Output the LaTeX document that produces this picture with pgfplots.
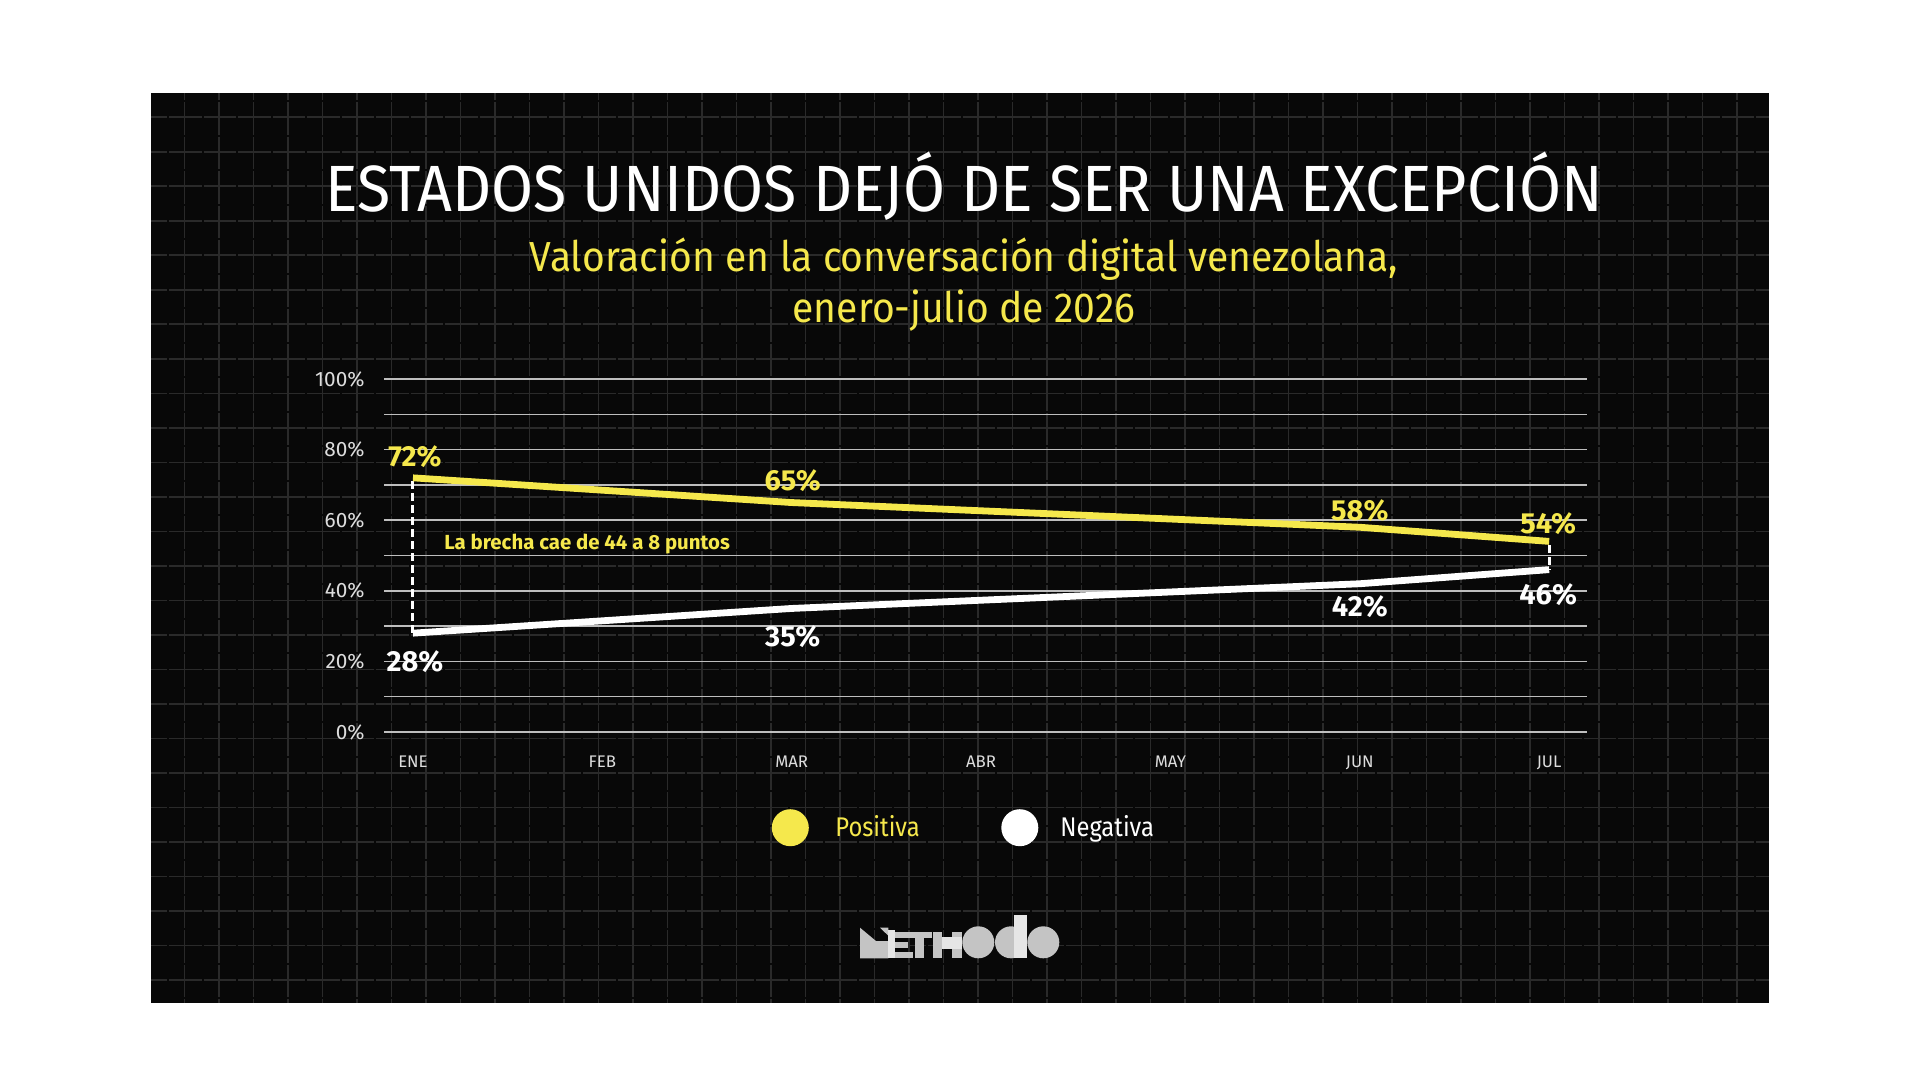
\documentclass[border=0pt]{standalone}
\usepackage{fontspec}
\setmainfont{Fira Sans}
\newfontfamily\titlefont{Fira Sans}[FakeStretch=0.93]
\newfontfamily\legfont{Fira Sans}[FakeStretch=0.88]
\usepackage{pgfplots}
\pgfplotsset{compat=1.18}
\definecolor{bg}{HTML}{080808}
\definecolor{bggrid}{HTML}{2A2A2A}
\definecolor{ylw}{HTML}{F5E84C}
\definecolor{gridc}{HTML}{BEBEBE}
\definecolor{tickc}{HTML}{DDDDDD}
\definecolor{logo}{HTML}{C4C4C4}
\definecolor{logol}{HTML}{E6E6E6}
\begin{document}
\begin{tikzpicture}
\path[fill=white] (0pt,0pt) rectangle (960pt,-540pt);
\begin{scope}[x=0.5pt,y=-0.5pt]
\fill[bg] (151,93.3) rectangle (1769,1003.3);
\begin{scope}
\clip (151,93.3) rectangle (1769,1003.3);
\foreach \i in {0,...,46} \draw[bggrid, line width=0.8pt, dash pattern=on 16.25pt off 1pt, dash phase=12.85pt] ({184.3+34.5*\i},93.3) -- ({184.3+34.5*\i},1003.3);
\foreach \j in {0,...,25} \draw[bggrid, line width=0.8pt, dash pattern=on 16.25pt off 1pt, dash phase=8.25pt] (151,{117.3+34.5*\j}) -- (1769,{117.3+34.5*\j});
\end{scope}
% titles
\node[anchor=base, white, inner sep=0pt, font=\titlefont\fontsize{32.7}{36}\selectfont] at (964,211.7) {ESTADOS UNIDOS DEJÓ DE SER UNA EXCEPCIÓN};
\node[anchor=base, ylw, inner sep=0pt, font=\titlefont\fontsize{21}{25}\selectfont] at (964,271.7) {Valoración en la conversación digital venezolana,};
\node[anchor=base, ylw, inner sep=0pt, font=\titlefont\fontsize{21}{25}\selectfont] at (964,322.5) {enero-julio de 2026};
% legend
\fill[ylw] (790.3,827.7) circle (9.25pt);
\node[anchor=base west, ylw, inner sep=0pt, font=\legfont\fontsize{13.5}{16}\selectfont] at (835,836) {Positiva};
\fill[white] (1019.8,827.7) circle (9.25pt);
\node[anchor=base west, white, inner sep=0pt, font=\legfont\fontsize{13.5}{16}\selectfont] at (1060,836) {Negativa};
% logo
\fill[logo] (860,927.7) -- (876,941) -- (888.3,941) -- (888.3,958.3) -- (860,958.3) -- cycle;
\fill[logo] (880,927.7) -- (888.3,927.7) -- (888.3,935.7) -- cycle;
\fill[logol] (888.3,930) rectangle (895,958.3);
\fill[logo] (895,931.7) rectangle (913.3,938.3);
\fill[logo] (895,942.3) rectangle (908.3,947.7);
\fill[logo] (895,951.7) rectangle (913.3,958.3);
\fill[logo] (906.7,931.7) rectangle (931.7,938.3);
\fill[logo] (915,931.7) rectangle (924,958.3);
\fill[logo] (933.3,931.7) rectangle (941.7,958.3);
\fill[logo] (951.7,931.7) rectangle (961.7,958.3);
\fill[logol] (941.7,937) rectangle (961.7,949);
\fill[logo] (978.3,942.3) circle (8pt);
\fill[logo] (1011,942.3) circle (8pt);
\fill[logol] (1014,915) rectangle (1026.7,958.3);
\fill[logo] (1043.3,942.3) circle (8pt);
\end{scope}
\begin{axis}[
  at={(192pt,-366pt)}, anchor=south west,
  scale only axis, width=601.5pt, height=176.5pt,
  xmin=-0.153, xmax=6.2, ymin=0, ymax=100,
  axis line style={draw=none},
  major tick style={draw=none}, minor tick style={draw=none},
  xtick={0,1,2,3,4,5,6},
  xticklabels={ENE,FEB,MAR,ABR,MAY,JUN,JUL},
  ytick={0,20,40,60,80,100},
  yticklabels={0\%,20\%,40\%,60\%,80\%,100\%},
  minor ytick={10,30,50,70,90},
  ymajorgrids, yminorgrids,
  major grid style={draw=gridc, line width=0.75pt},
  minor grid style={draw=gridc, line width=0.75pt},
  clip=false,
  yticklabel style={font=\fontsize{10.4}{12}\selectfont, text=tickc, inner sep=0pt, anchor=east, xshift=-9.5pt},
  xticklabel style={font=\fontsize{8.4}{10}\selectfont, text=tickc, inner sep=0pt, anchor=north, yshift=-12pt},
]
\draw[white, line width=1.5pt, dash pattern=on 4pt off 2pt] (axis cs:0,71) -- (axis cs:0,28);
\draw[white, line width=1.5pt, dash pattern=on 4pt off 2pt] (axis cs:6,53) -- (axis cs:6,46);
\addplot[ylw, line width=3.4pt] coordinates {(0,72) (2,65) (5,58) (6,54)};
\addplot[white, line width=3.4pt] coordinates {(0,28) (2,35) (5,42) (6,46)};
\node[ylw, inner sep=0pt, font=\bfseries\fontsize{14.5}{16}\selectfont, xshift=1pt, yshift=10.75pt] at (axis cs:0,72) {72\%};
\node[ylw, inner sep=0pt, font=\bfseries\fontsize{14.5}{16}\selectfont, xshift=0.5pt, yshift=11pt] at (axis cs:2,65) {65\%};
\node[ylw, inner sep=0pt, font=\bfseries\fontsize{14.5}{16}\selectfont, xshift=0pt, yshift=8.5pt] at (axis cs:5,58) {58\%};
\node[ylw, inner sep=0pt, font=\bfseries\fontsize{14.5}{16}\selectfont, xshift=-0.5pt, yshift=9pt] at (axis cs:6,54) {54\%};
\node[white, inner sep=0pt, font=\bfseries\fontsize{14.5}{16}\selectfont, xshift=1pt, yshift=-14pt] at (axis cs:0,28) {28\%};
\node[white, inner sep=0pt, font=\bfseries\fontsize{14.5}{16}\selectfont, xshift=0.5pt, yshift=-14.25pt] at (axis cs:2,35) {35\%};
\node[white, inner sep=0pt, font=\bfseries\fontsize{14.5}{16}\selectfont, xshift=0pt, yshift=-11.5pt] at (axis cs:5,42) {42\%};
\node[white, inner sep=0pt, font=\bfseries\fontsize{14.5}{16}\selectfont, xshift=-0.5pt, yshift=-12.7pt] at (axis cs:6,46) {46\%};
\node[anchor=base west, inner sep=0pt, ylw, font=\bfseries\fontsize{10.2}{11}\selectfont] at (axis cs:0.164,51.56) {La brecha cae de 44 a 8 puntos};
\end{axis}
\end{tikzpicture}
\end{document}
